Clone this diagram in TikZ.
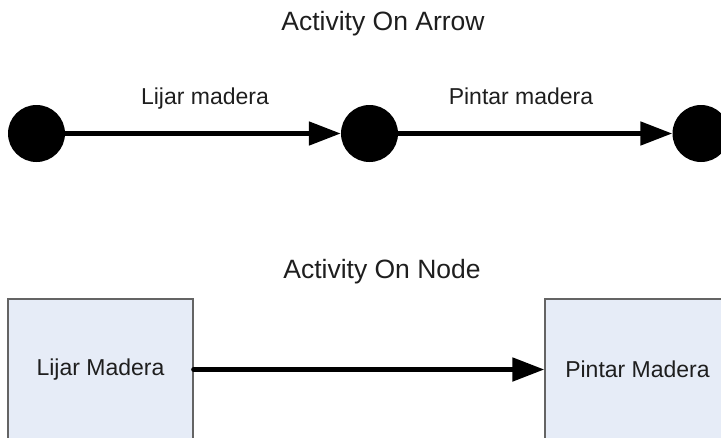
\documentclass[tikz,border=0pt]{standalone}
\usepackage{fontspec}
\setmainfont{Liberation Sans}
\usetikzlibrary{arrows.meta}
\definecolor{boxfill}{RGB}{230,236,247}
\definecolor{boxline}{RGB}{100,100,100}
\definecolor{txt}{RGB}{30,30,30}
\begin{document}
\begin{tikzpicture}[x=1pt,y=-1pt,
  event/.style={circle,fill=black,draw=none,minimum size=57pt,inner sep=0pt},
  actbox/.style={rectangle,fill=boxfill,draw=boxline,line width=1.3pt,minimum width=185pt,minimum height=141pt,inner sep=0pt,text=txt,font=\fontsize{23}{26}\selectfont},
  title/.style={anchor=base,text=txt,font=\fontsize{26.5}{30}\selectfont,inner sep=0pt},
  lbl/.style={anchor=base,text=txt,font=\fontsize{23}{26}\selectfont,inner sep=0pt},
  flow/.style={line width=5pt,-{Triangle[length=32pt,width=23pt]}}
]
\useasboundingbox (0,0) rectangle (721,437);
\clip (0,0) rectangle (721,437);
% top part
\node[title] (t1) at (383,30) {Activity On Arrow};
\node[event] (c1) at (36.5,133.5) {};
\node[event] (c2) at (369.5,133.5) {};
\node[event] (c3) at (701,133.5) {};
\node[lbl] (l1) at (205,104) {Lijar madera};
\node[lbl] (l2) at (521,104) {Pintar madera};
\draw[flow] (c1) -- (c2);
\draw[flow] (c2) -- (c3);
% bottom part
\node[title] (t2) at (382,278) {Activity On Node};
\node[actbox] (b1) at (100.5,369.5) {Lijar Madera};
\node[actbox] (b2) at (637.5,369.5) {Pintar Madera};
\draw[flow,line cap=round] (b1.east) -- (b2.west);
\end{tikzpicture}
\end{document}
